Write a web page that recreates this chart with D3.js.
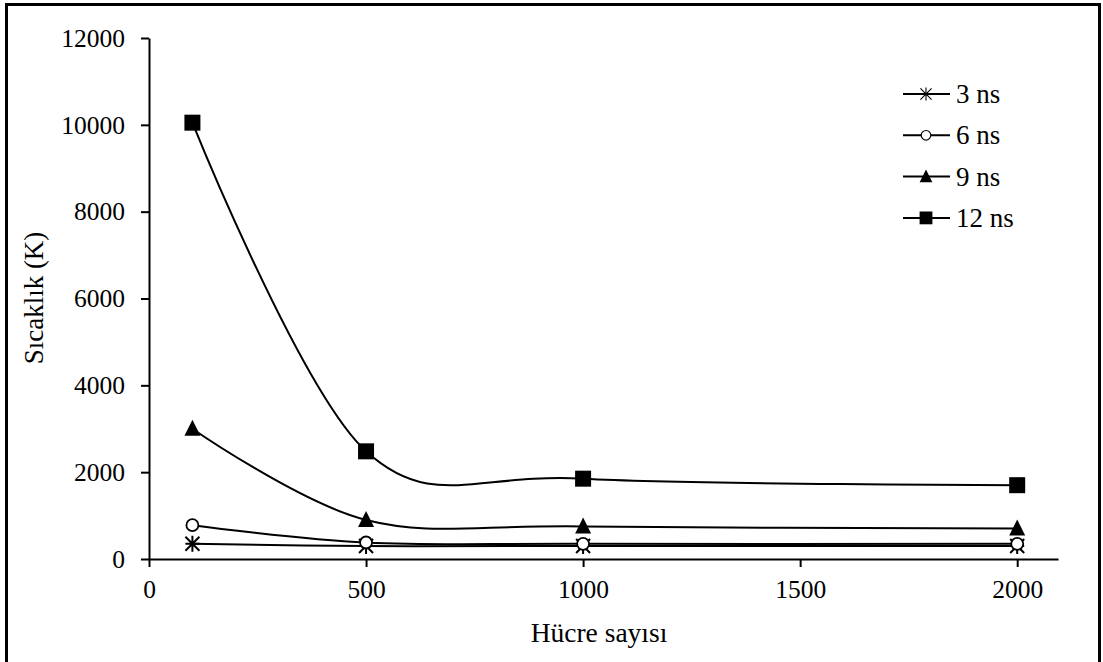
<!DOCTYPE html>
<html><head><meta charset="utf-8">
<script src="https://cdn.jsdelivr.net/npm/d3@7"></script>
<style>body{margin:0;background:#fff}</style>
</head><body>
<svg id="c" width="1103" height="662"></svg>
<script>
const cells = [100, 500, 1000, 2000];
const s3 = [350, 300, 300, 300];
const s6 = [780, 380, 350, 350];
const s9 = [3000, 900, 750, 700];
const s12 = [10050, 2480, 1850, 1700];
const seriesNames = ["3 ns", "6 ns", "9 ns", "12 ns"];
const seriesMarkers = ["star", "circle", "triangle", "square"];
const yTicks = [0, 2000, 4000, 6000, 8000, 10000, 12000];
const xTicks = [0, 500, 1000, 1500, 2000];
const seriesList = [s3, s6, s9, s12];

const svg = d3.select("#c");
const font = "Liberation Serif, Times New Roman, serif";
svg.append("rect").attr("x",6.5).attr("y",4.5).attr("width",1093).attr("height",670)
  .attr("fill","#fff").attr("stroke","#000").attr("stroke-width",3);

const x = d3.scaleLinear().domain([0, 2094]).range([149, 1058]);
const y = d3.scaleLinear().domain([0, 12000]).range([559, 38]);

const gx = svg.append("g").attr("transform","translate(0,559)")
  .call(d3.axisBottom(x).tickValues(xTicks).tickFormat(d3.format("d")).tickSize(8).tickSizeOuter(0).tickPadding(13));
const gy = svg.append("g").attr("transform","translate(149,0)")
  .call(d3.axisLeft(y).tickValues(yTicks).tickFormat(d3.format("d")).tickSize(8).tickSizeOuter(0).tickPadding(16));
[gx, gy].forEach(g => {
  g.attr("font-family", font).attr("font-size", 25.5);
  g.selectAll("path,line").attr("stroke","#000").attr("stroke-width",2);
  g.selectAll("text").attr("fill","#000");
});

const line = d3.line().x((d,i)=>x(cells[i])).y(d=>y(d)).curve(d3.curveCardinal.tension(0));
seriesList.forEach(s => {
  svg.append("path").attr("d", line(s)).attr("fill","none").attr("stroke","#000").attr("stroke-width",2);
});

function marker(g, type, cx, cy, small) {
  const k = small ? 0.8 : 1;
  if (type === "square") {
    g.append("rect").attr("x",cx-8*k).attr("y",cy-8*k).attr("width",16*k).attr("height",16*k).attr("fill","#000");
  } else if (type === "triangle") {
    g.append("path").attr("d",`M${cx},${cy-9*k}L${cx+8*k},${cy+7*k}L${cx-8*k},${cy+7*k}Z`).attr("fill","#000");
  } else if (type === "circle") {
    g.append("circle").attr("cx",cx).attr("cy",cy).attr("r",6*k).attr("fill","#fff").attr("stroke","#000").attr("stroke-width",small?1.2:1.8);
  } else {
    const r = 7*k;
    g.append("path").attr("d",`M${cx-r},${cy}L${cx+r},${cy}M${cx},${cy-r-1}L${cx},${cy+r+1}M${cx-r},${cy-r}L${cx+r},${cy+r}M${cx-r},${cy+r}L${cx+r},${cy-r}`)
      .attr("stroke","#000").attr("stroke-width",small?1.1:2).attr("fill","none");
  }
}
seriesList.forEach((s, k) => {
  s.forEach((v, i) => marker(svg, seriesMarkers[k], x(cells[i]), y(v), false));
});

// legend
seriesNames.forEach((n, k) => {
  const ly = 94 + k * 41.3;
  svg.append("line").attr("x1",903).attr("x2",950).attr("y1",ly).attr("y2",ly).attr("stroke","#000").attr("stroke-width",2);
  marker(svg, seriesMarkers[k], 926, ly, true);
  svg.append("text").attr("x",956).attr("y",ly+9).attr("font-family",font).attr("font-size",27).text(n);
});

svg.append("text").attr("x",599).attr("y",642).attr("text-anchor","middle")
  .attr("font-family",font).attr("font-size",27.5).text("Hücre sayısı");
svg.append("text").attr("transform","translate(43,298) rotate(-90)").attr("text-anchor","middle")
  .attr("font-family",font).attr("font-size",27).text("Sıcaklık (K)");
</script>
</body></html>
